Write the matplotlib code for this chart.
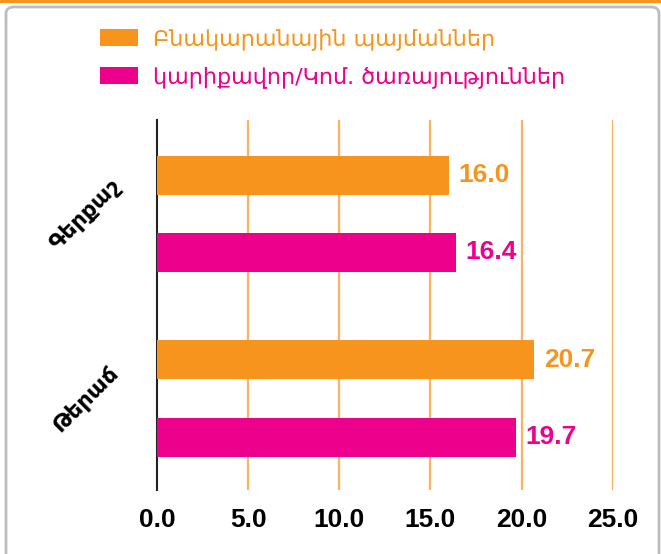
import numpy as np
import matplotlib
matplotlib.use('Agg')
import matplotlib.pyplot as plt
from matplotlib.patches import FancyBboxPatch, Rectangle

# data
categories = ['Գերքաշ', 'Թերաճ']
series_names = ['Բնակարանային պայմաններ', 'կարիքավոր/Կոմ. ծառայություններ']
housing = [16.0, 20.7]
services = [16.4, 19.7]
xticks = [0, 5, 10, 15, 20, 25]

orange = '#F7941D'
magenta = '#EC008C'
grid_col = '#FBB262'

plt.rcParams['font.family'] = ['Liberation Sans', 'DejaVu Sans']

W, H = 661, 554
fig = plt.figure(figsize=(W / 100, H / 100), dpi=100)

# page frame: orange strip on top and a rounded grey box
fig.patches.append(Rectangle((0, 1 - 3 / H), 1, 3 / H, transform=fig.transFigure,
                             facecolor=orange, edgecolor='none', zorder=-2))
fig.patches.append(FancyBboxPatch((6 / W, -0.2), (653) / W, 1.2 - 7 / H,
                                  boxstyle='round,pad=0,rounding_size=0.012',
                                  transform=fig.transFigure, facecolor='white',
                                  edgecolor='#BDBDBD', linewidth=2, zorder=-1))

left, right = 157 / W, 612.7 / W
top, bottom = 1 - 120 / H, 1 - 490 / H
ax = fig.add_axes([left, bottom, right - left, top - bottom])
ax.set_facecolor('none')
ax.set_zorder(2)

y = np.arange(len(categories))
off = 0.209
hgt = 0.211
b1 = ax.barh(y - off, housing, height=hgt, color=orange, label=series_names[0], zorder=3)
b2 = ax.barh(y + off, services, height=hgt, color=magenta, label=series_names[1], zorder=3)

ax.bar_label(b1, labels=['%.1f' % v for v in housing], padding=7, color=orange,
             fontsize=19, fontweight='bold')
ax.bar_label(b2, labels=['%.1f' % v for v in services], padding=7, color=magenta,
             fontsize=19, fontweight='bold')

ax.set_xlim(0, 25)
ax.set_ylim(1.496, -0.509)

ax.set_xticks(xticks)
ax.set_xticklabels(['%.1f' % v for v in xticks], fontsize=19, fontweight='bold')
ax.tick_params(axis='x', length=0, pad=13)
for xv in xticks[1:]:
    ax.axvline(xv, color=grid_col, linewidth=1.6, zorder=1)

ax.set_yticks(y)
ax.set_yticklabels(categories, rotation=45, ha='center', va='center',
                   fontsize=16, fontweight='bold', family='DejaVu Sans')
ax.tick_params(axis='y', length=0, pad=52)

for s in ['top', 'right', 'bottom']:
    ax.spines[s].set_visible(False)
ax.spines['left'].set_linewidth(1.5)
ax.spines['left'].set_color('#222222')

leg = fig.legend(handles=[b1, b2], loc='upper left', bbox_to_anchor=(80 / W, 1 - 8 / H),
                 frameon=False, prop={'family': 'DejaVu Sans', 'size': 16},
                 handlelength=1.73, handleheight=0.8, handletextpad=0.64, labelspacing=0.72)
for t, c in zip(leg.get_texts(), [orange, magenta]):
    t.set_color(c)

fig.savefig('out.png', dpi=100)
